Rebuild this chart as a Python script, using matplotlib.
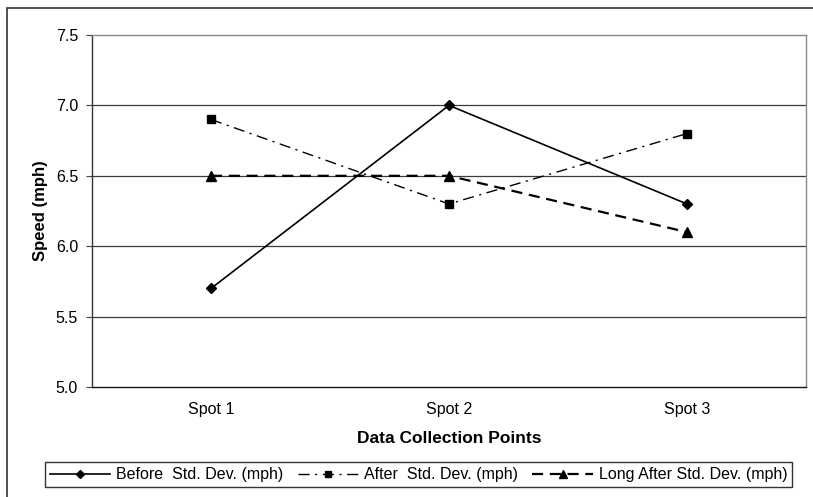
import matplotlib
matplotlib.use("Agg")
import matplotlib.pyplot as plt
from matplotlib.patches import Rectangle

plt.rcParams['font.family'] = ['Liberation Sans', 'DejaVu Sans']

categories = ["Spot 1", "Spot 2", "Spot 3"]
before = [5.7, 7.0, 6.3]
after = [6.9, 6.3, 6.8]
long_after = [6.5, 6.5, 6.1]
yticks = [5.0, 5.5, 6.0, 6.5, 7.0, 7.5]

fig = plt.figure(figsize=(8.13, 4.97), dpi=100)
ax = fig.add_axes([92/813, 1-387/497, (806-92)/813, (387-35)/497])

x = list(range(len(categories)))
ax.plot(x, before, color='black', lw=1.2, ls='-', marker='D', ms=5,
        label='Before  Std. Dev. (mph)')
ax.plot(x, after, color='black', lw=1.0, ls=(0, (8, 4, 1.5, 4)), marker='s', ms=6,
        label='After  Std. Dev. (mph)')
ax.plot(x, long_after, color='black', lw=1.6, ls=(0, (5, 3)), marker='^', ms=7,
        label='Long After Std. Dev. (mph)')

ax.set_xlim(-0.5, 2.5)
ax.set_ylim(5.0, 7.5)
ax.set_yticks(yticks)
ax.set_yticklabels([f"{v:.1f}" for v in yticks], fontsize=11.5)
ax.set_xticks(x)
ax.set_xticklabels(categories, fontsize=11.5)
ax.tick_params(axis='x', length=0, pad=11)
ax.tick_params(axis='y', length=4, direction='out', color='#404040', pad=6)
for v in yticks[1:-1]:
    ax.axhline(v, color='#3a3a3a', lw=0.9, zorder=0)

ax.spines['top'].set_color('#8a8a8a')
ax.spines['right'].set_color('#8a8a8a')
ax.spines['left'].set_color('#333333')
ax.spines['bottom'].set_color('#111111')
for s in ax.spines.values():
    s.set_linewidth(1.0)

ax.set_ylabel('Speed (mph)', fontsize=12, fontweight='bold', labelpad=6)
ax.set_xlabel('Data Collection Points', fontsize=12.5, fontweight='bold', labelpad=10)

leg = fig.legend(loc='lower center', bbox_to_anchor=(418.5/813, 1-495/497), ncol=3,
                 fontsize=11.5, frameon=True, fancybox=False, edgecolor='black',
                 handlelength=3.8, columnspacing=0.9, handletextpad=0.35,
                 borderpad=0.3, markerscale=0.8)
leg.get_frame().set_linewidth(1.0)

fig.patches.append(Rectangle((7/813, -0.01), 1.0, 1 - 8/497 + 0.01, transform=fig.transFigure,
                             fill=False, edgecolor='#333333', lw=1.2))

fig.savefig('out.png', dpi=100)
